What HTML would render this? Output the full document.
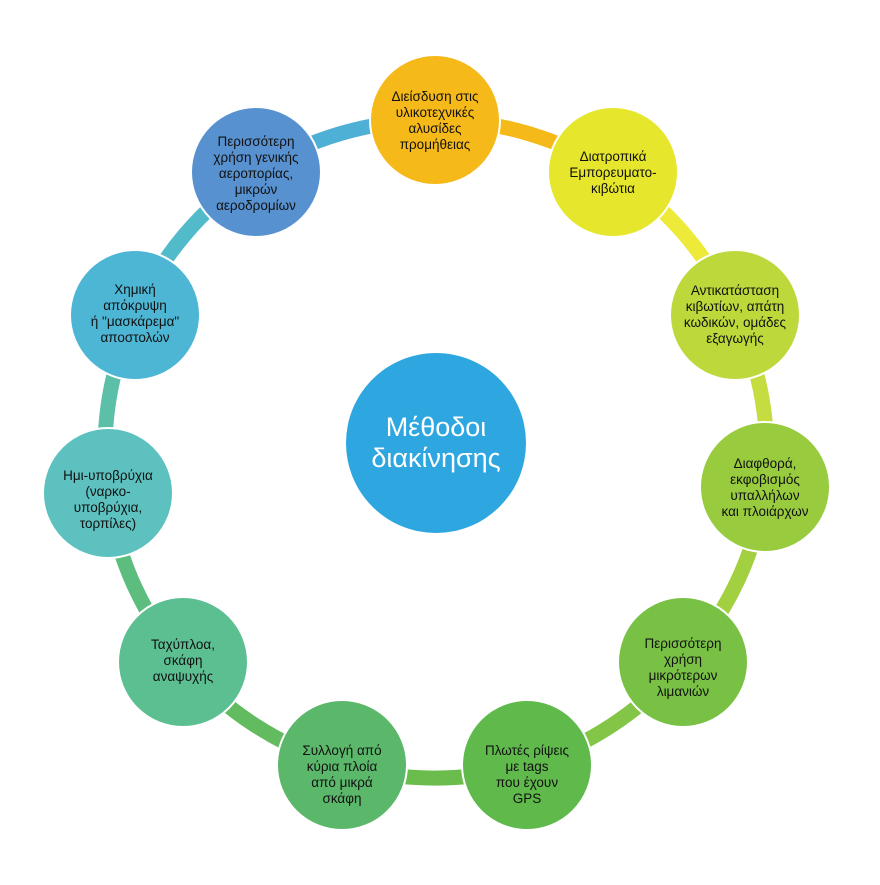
<!DOCTYPE html>
<html><head><meta charset="utf-8"><style>
body{margin:0;background:#fff;width:880px;height:880px;overflow:hidden}
svg text{font-family:"Liberation Sans",sans-serif;}
</style></head><body>
<svg width="880" height="880" viewBox="0 0 880 880" xmlns="http://www.w3.org/2000/svg">
<g fill="none" stroke-width="15">
<path d="M435 120 A328 322 0 0 1 613 172" stroke="#f5b91a"/>
<path d="M613 172 A328 322 0 0 1 735 315" stroke="#eeea3a"/>
<path d="M735 315 A328 322 0 0 1 765 487" stroke="#c5dd40"/>
<path d="M765 487 A328 322 0 0 1 683 662" stroke="#a2d040"/>
<path d="M683 662 A328 322 0 0 1 527 765" stroke="#82c547"/>
<path d="M527 765 A328 322 0 0 1 342 765" stroke="#6abd4c"/>
<path d="M342 765 A328 322 0 0 1 183 662" stroke="#63bb60"/>
<path d="M183 662 A328 322 0 0 1 108 493" stroke="#5dbd7e"/>
<path d="M108 493 A328 322 0 0 1 135 315" stroke="#5cc0a9"/>
<path d="M135 315 A328 322 0 0 1 256 172" stroke="#52bbc9"/>
<path d="M256 172 A328 322 0 0 1 435 120" stroke="#4fb0d6"/>
</g>
<g stroke="#fff" stroke-width="2">
<circle cx="435" cy="120" r="65" fill="#f5b91a"/>
<circle cx="613" cy="172" r="65" fill="#e6e72c"/>
<circle cx="735" cy="315" r="65" fill="#bcd83a"/>
<circle cx="765" cy="487" r="65" fill="#98cb3e"/>
<circle cx="683" cy="662" r="65" fill="#79c145"/>
<circle cx="527" cy="765" r="65" fill="#5fb94b"/>
<circle cx="342" cy="765" r="65" fill="#5bb86a"/>
<circle cx="183" cy="662" r="65" fill="#5cbf92"/>
<circle cx="108" cy="493" r="65" fill="#5cc1bf"/>
<circle cx="135" cy="315" r="65" fill="#4db6d4"/>
<circle cx="256" cy="172" r="65" fill="#5891cf"/>
</g>
<g font-size="13.5" fill="#111" text-anchor="middle">
<text x="435" y="101">Διείσδυση στις</text><text x="435" y="117">υλικοτεχνικές</text><text x="435" y="133">αλυσίδες</text><text x="435" y="149">προμήθειας</text>
<text x="613" y="161">Διατροπικά</text><text x="613" y="177">Εμπορευματο-</text><text x="613" y="193">κιβώτια</text>
<text x="735" y="295">Αντικατάσταση</text><text x="735" y="311">κιβωτίων, απάτη</text><text x="735" y="327">κωδικών, ομάδες</text><text x="735" y="343">εξαγωγής</text>
<text x="765" y="468">Διαφθορά,</text><text x="765" y="484">εκφοβισμός</text><text x="765" y="500">υπαλλήλων</text><text x="765" y="516">και πλοιάρχων</text>
<text x="683" y="648">Περισσότερη</text><text x="683" y="664">χρήση</text><text x="683" y="680">μικρότερων</text><text x="683" y="696">λιμανιών</text>
<text x="527" y="755">Πλωτές ρίψεις</text><text x="527" y="771">με tags</text><text x="527" y="787">που έχουν</text><text x="527" y="803">GPS</text>
<text x="342" y="755">Συλλογή από</text><text x="342" y="771">κύρια πλοία</text><text x="342" y="787">από μικρά</text><text x="342" y="803">σκάφη</text>
<text x="183" y="649">Ταχύπλοα,</text><text x="183" y="665">σκάφη</text><text x="183" y="681">αναψυχής</text>
<text x="108" y="480">Ημι-υποβρύχια</text><text x="108" y="496">(ναρκο-</text><text x="108" y="512">υποβρύχια,</text><text x="108" y="528">τορπίλες)</text>
<text x="135" y="294">Χημική</text><text x="135" y="310">απόκρυψη</text><text x="135" y="326">ή "μασκάρεμα"</text><text x="135" y="342">αποστολών</text>
<text x="256" y="146">Περισσότερη</text><text x="256" y="162">χρήση γενικής</text><text x="256" y="178">αεροπορίας,</text><text x="256" y="194">μικρών</text><text x="256" y="210">αεροδρομίων</text>
</g>
<circle cx="436" cy="443" r="90" fill="#2ea6df"/>
<text x="436" y="436" font-size="27" fill="#fff" text-anchor="middle">Μέθοδοι</text>
<text x="436" y="467" font-size="27" fill="#fff" text-anchor="middle">διακίνησης</text>
</svg>
</body></html>
